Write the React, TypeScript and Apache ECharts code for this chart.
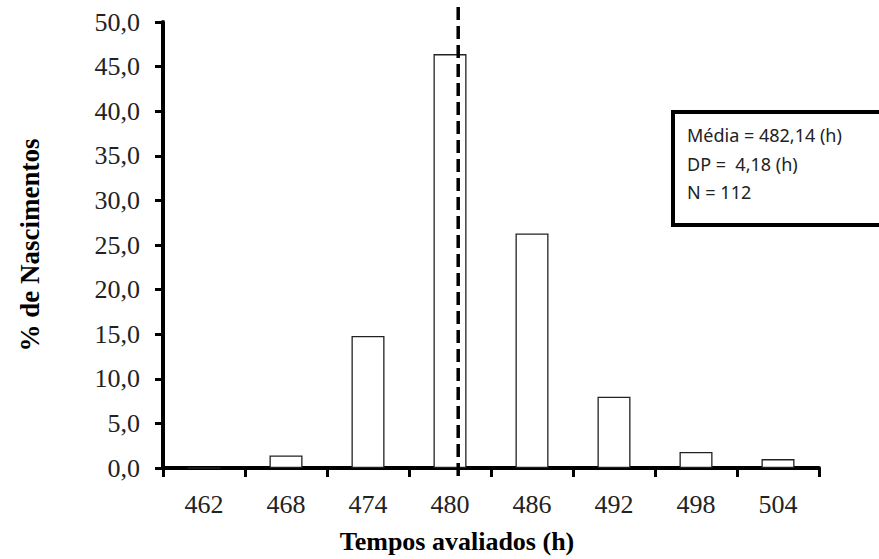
import React, { useEffect, useRef } from "react";
import * as echarts from "echarts";

const categories = ["462", "468", "474", "480", "486", "492", "498", "504"];
const percentBirths = [0, 1.4, 14.8, 46.4, 26.3, 8.0, 1.8, 1.0];
const meanLinePosition = 480.6;
const meanLineSpan = [-0.9, 51.7];
const statsLines = ["Média = 482,14 (h)", "DP =  4,18 (h)", "N = 112"];

export default function App() {
  const ref = useRef<HTMLDivElement>(null);
  useEffect(() => {
    if (!ref.current) return;
    const chart = echarts.init(ref.current, null, { renderer: "svg" });
    const serif = "'Liberation Serif', 'Times New Roman', serif";
    chart.setOption({
      animation: false,
      backgroundColor: "#ffffff",
      grid: { left: 163, top: 22, width: 656, height: 448 },
      xAxis: [
        {
          type: "category",
          data: categories,
          boundaryGap: true,
          name: "Tempos avaliados (h)",
          nameLocation: "middle",
          nameGap: 60,
          nameTextStyle: {
            fontFamily: serif,
            fontWeight: "bold",
            fontSize: 26,
            color: "#000",
            padding: [0, 68, 0, 0],
          },
          axisLine: { lineStyle: { color: "#000", width: 4 } },
          axisTick: { show: true, length: 9, lineStyle: { color: "#000", width: 3 } },
          axisLabel: { fontFamily: serif, fontSize: 26, color: "#222", margin: 23 },
          splitLine: { show: false },
        },
        {
          type: "value",
          min: 459,
          max: 507,
          show: false,
        },
      ],
      yAxis: {
        type: "value",
        min: 0,
        max: 50,
        interval: 5,
        name: "% de Nascimentos",
        nameLocation: "middle",
        nameGap: 120,
        nameTextStyle: { fontFamily: serif, fontWeight: "bold", fontSize: 27, color: "#000" },
        axisLine: { show: true, lineStyle: { color: "#000", width: 4 } },
        axisTick: { show: true, length: 8, lineStyle: { color: "#000", width: 3 } },
        axisLabel: {
          fontFamily: serif,
          fontSize: 26,
          color: "#222",
          margin: 23,
          formatter: (v: number) => v.toFixed(1).replace(".", ","),
        },
        splitLine: { show: false },
      },
      series: [
        {
          type: "bar",
          data: percentBirths,
          xAxisIndex: 0,
          barWidth: 33,
          itemStyle: { color: "#ffffff", borderColor: "#222", borderWidth: 1.3 },
          z: 2,
        },
        {
          type: "line",
          xAxisIndex: 1,
          data: [
            [meanLinePosition, meanLineSpan[0]],
            [meanLinePosition, meanLineSpan[1]],
          ],
          symbol: "none",
          clip: false,
          lineStyle: { color: "#000", width: 3.5, type: [13, 6] },
          z: 5,
        },
      ],
      graphic: [
        {
          type: "group",
          left: 671,
          top: 110,
          children: [
            {
              type: "rect",
              shape: { x: 0, y: 0, width: 215, height: 113 },
              style: { fill: "#fff", stroke: "#000", lineWidth: 4 },
            },
            ...statsLines.map((t, i) => ({
              type: "text",
              x: 14,
              y: 23 + i * 28.5,
              style: {
                text: t,
                fontFamily: "'Noto Sans', 'Open Sans', sans-serif",
                fontSize: 18,
                fill: "#222",
                verticalAlign: "middle",
              },
            })),
          ],
        },
      ],
    });
    return () => chart.dispose();
  }, []);
  return <div ref={ref} style={{ width: 879, height: 559, position: "absolute", left: 0, top: 0 }} />;
}
